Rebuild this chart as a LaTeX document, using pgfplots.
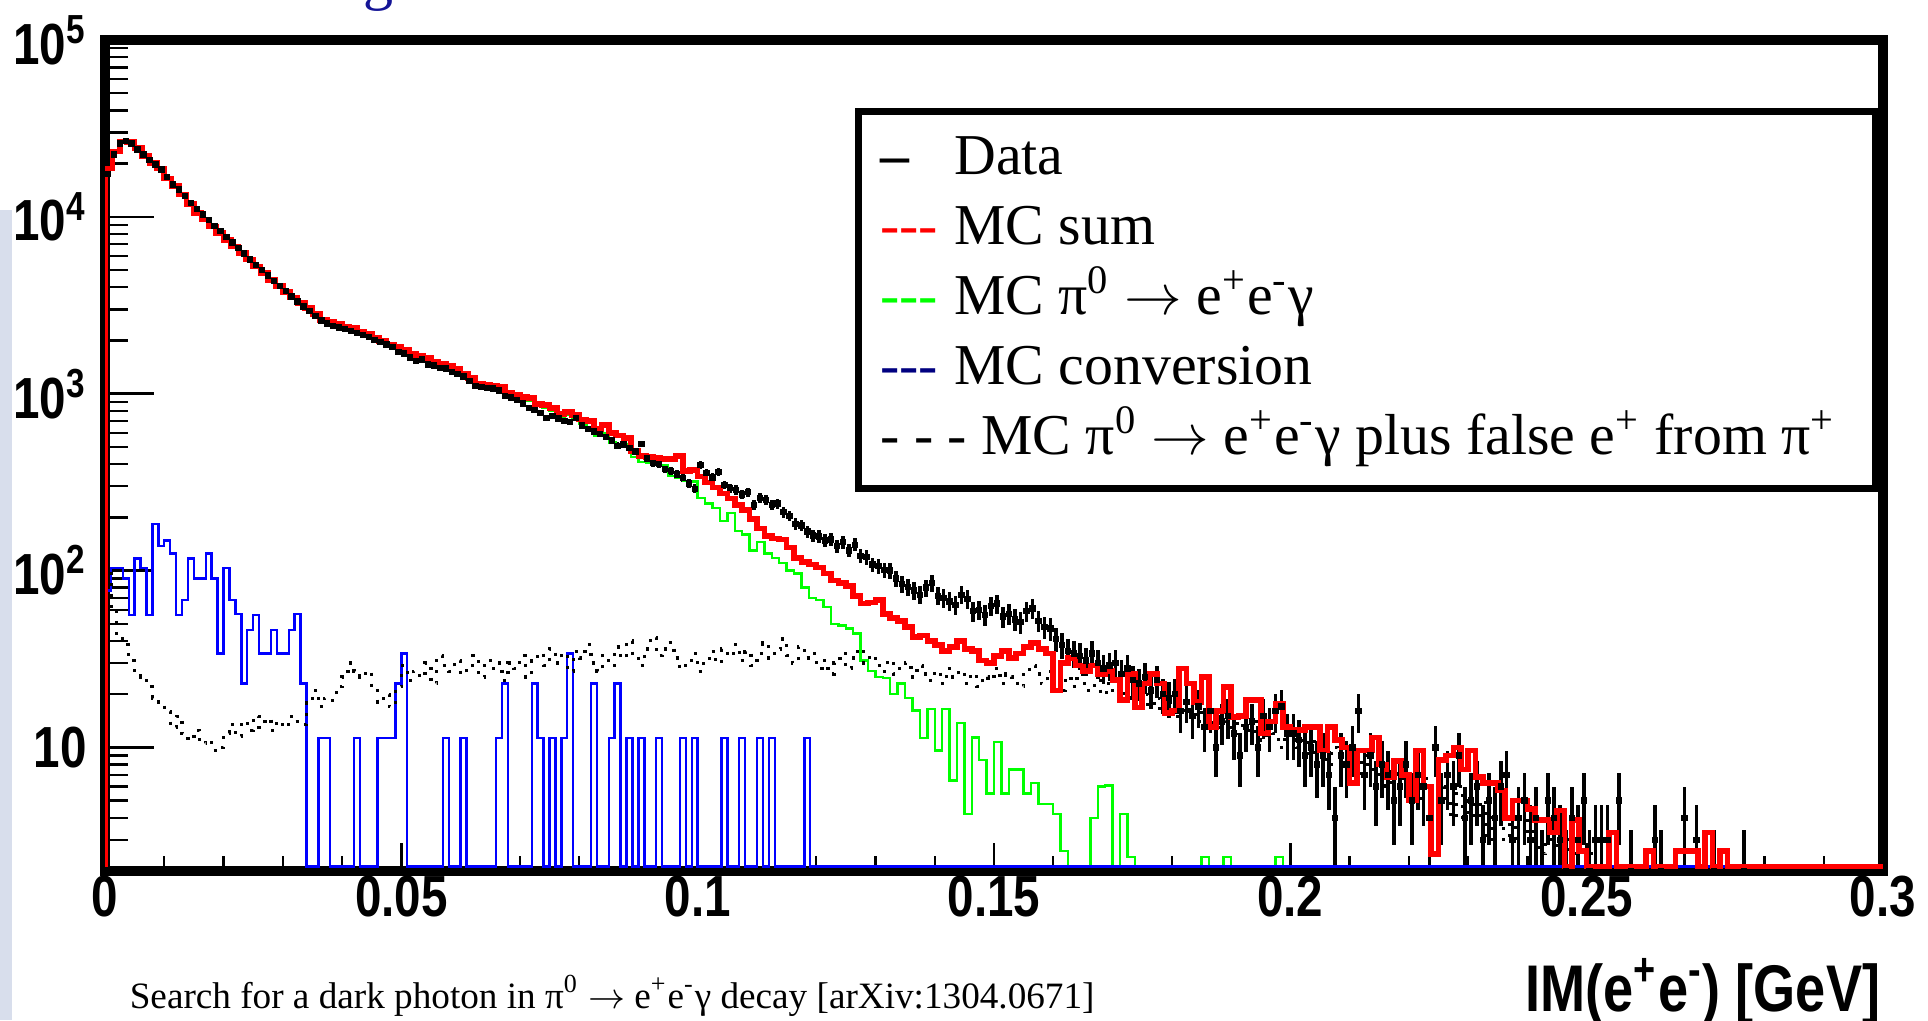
\documentclass[border=0pt]{standalone}
\usepackage{fontspec}
\setmainfont{Liberation Serif}
\newfontfamily\rootsans[FakeStretch=0.82]{Liberation Sans}
\usepackage{pgfplots}
\pgfplotsset{compat=1.18}
\definecolor{rootred}{RGB}{255,0,0}
\definecolor{rootgreen}{RGB}{0,255,0}
\definecolor{rootblue}{RGB}{0,0,255}
\definecolor{navyleg}{RGB}{0,0,128}
\definecolor{stripcol}{RGB}{216,222,236}
\definecolor{titleblue}{RGB}{20,20,150}
\newcommand{\arr}{\ensuremath{\rightarrow}}
\begin{document}
\begin{tikzpicture}
\useasboundingbox (0pt,0pt) rectangle (482pt,255pt);
\fill[stripcol] (0pt,0pt) rectangle (3pt,202.5pt);
\node[anchor=base, inner sep=0pt, text=titleblue, font=\fontsize{15}{15}\selectfont] at (94.5pt,255.3pt) {g};
\begin{axis}[
  at={(26.25pt,37.25pt)}, anchor=south west,
  scale only axis, width=444.5pt, height=207.75pt,
  xmin=0, xmax=0.3, ymode=log, ymin=2, ymax=1e5,
  axis line style={line width=2.5pt, line cap=rect},
  tick align=inside, tick pos=left,
  xtick={0,0.05,0.1,0.15,0.2,0.25,0.3},
  xticklabels={0,0.05,0.1,0.15,0.2,0.25,0.3},
  minor x tick num=4,
  ytick={10,100,1000,10000,100000},
  yticklabels={10,10\textsuperscript{2},10\textsuperscript{3},10\textsuperscript{4},10\textsuperscript{5}},
  minor ytick={3,4,5,6,7,8,9,20,30,40,50,60,70,80,90,200,300,400,500,600,700,800,900,2000,3000,4000,5000,6000,7000,8000,9000,20000,30000,40000,50000,60000,70000,80000,90000},
  tick style={black, line width=0.6pt},
  xtick style={/pgfplots/major tick length=7pt,/pgfplots/minor tick length=3.8pt},
  ytick style={/pgfplots/major tick length=12.25pt,/pgfplots/minor tick length=5.75pt},
  ticklabel style={font=\rootsans\bfseries\fontsize{14.5}{16}\selectfont},
  xticklabel style={yshift=2.4pt},
  yticklabel style={xshift=-1pt},
  xlabel={IM(e\textsuperscript{+}e\textsuperscript{-}) [GeV]},
  xlabel style={at={(rel axis cs:1,0)}, anchor=base east, inner sep=0pt, yshift=-35pt, xshift=-0.5pt, font=\rootsans\bfseries\fontsize{16.5}{18}\selectfont},
  legend style={at={(rel axis cs:0.422,0.918)}, anchor=north west, draw=black, line width=1.75pt, fill=white,
    inner xsep=5.4pt, inner ysep=3.3pt, row sep=0pt, column sep=0pt,
    font=\fontsize{14.45}{17}\selectfont,
    nodes={inner sep=0pt, text height=12.5pt, text depth=5pt}},
  legend cell align=left,
]
% Data
\addplot[forget plot, only marks, mark=square*, mark size=0.6pt, black,
  error bars/.cd, y dir=both, y explicit, error mark=none, error bar style={line width=0.9pt, black}]
  table[x=x, y=y, y error=e, row sep=\\] {x y e\\
0.0005 17500 132\\ 0.0015 22500 150\\ 0.0025 26000 161\\ 0.0035 26800 164\\ 0.0045 26000 161\\ 0.0055 24000 155\\ 0.0065 22500 150\\ 0.0075 21000 145\\ 0.0085 19800 141\\ 0.0095 18500 136\\
0.0105 16800 130\\ 0.0115 15200 123\\ 0.0125 14300 120\\ 0.0135 13100 114\\ 0.0145 12000 110\\ 0.0155 11100 105\\ 0.0165 10300 101\\ 0.0175 9600 98\\ 0.0185 8900 94\\ 0.0195 8300 91\\
0.0205 7700 88\\ 0.0215 7150 85\\ 0.0225 6650 82\\ 0.0235 6200 79\\ 0.0245 5750 76\\ 0.0255 5350 73\\ 0.0265 5000 71\\ 0.0275 4650 68\\ 0.0285 4350 66\\ 0.0295 4050 64\\
0.0305 3800 62\\ 0.0315 3550 60\\ 0.0325 3330 58\\ 0.0335 3120 56\\ 0.0345 2930 54\\ 0.0355 2760 53\\ 0.0365 2600 51\\ 0.0375 2490 50\\ 0.0385 2420 49\\ 0.0395 2370 49\\
0.0405 2330 48\\ 0.0415 2270 48\\ 0.0425 2210 47\\ 0.0435 2150 46\\ 0.0445 2090 46\\ 0.0455 2020 45\\ 0.0465 1960 44\\ 0.0475 1900 44\\ 0.0485 1840 43\\ 0.0495 1720 41\\
0.0505 1690 41\\ 0.0515 1600 40\\ 0.0525 1530 39\\ 0.0535 1560 39\\ 0.0545 1460 38\\ 0.0555 1440 38\\ 0.0565 1400 37\\ 0.0575 1390 37\\ 0.0585 1330 36\\ 0.0595 1290 36\\
0.0605 1250 35\\ 0.0615 1180 34\\ 0.0625 1107 33\\ 0.0635 1090 33\\ 0.0645 1080 33\\ 0.0655 1070 33\\ 0.0665 1040 32\\ 0.0675 971 31\\ 0.0685 950 31\\ 0.0695 920 30\\
0.0705 880 30\\ 0.0715 831 29\\ 0.0725 810 28\\ 0.0735 780 28\\ 0.0745 730 27\\ 0.0755 750 27\\ 0.0765 725 27\\ 0.0775 700 26\\ 0.0785 690 26\\ 0.0795 730 27\\
0.0805 660 26\\ 0.0815 632 25\\ 0.0825 610 25\\ 0.0835 593 24\\ 0.0845 570 24\\ 0.0855 545 23\\ 0.0865 507 23\\ 0.0875 515 23\\ 0.0885 495 22\\ 0.0895 470 22\\
0.0905 520 23\\ 0.0915 430 21\\ 0.0925 406 20\\ 0.0935 400 20\\ 0.0945 376 19\\ 0.0955 365 19\\ 0.0965 350 19\\ 0.0975 334 18\\ 0.0985 310 18\\ 0.0995 290 17\\
0.1005 394 19.8\\ 0.1015 356 18.9\\ 0.1025 336 18.3\\ 0.1035 361 19\\ 0.1045 305 17.5\\ 0.1055 293 17.1\\ 0.1065 286 16.9\\ 0.1075 269 16.4\\ 0.1085 278 16.7\\ 0.1095 234 15.3\\
0.1105 258 16.1\\ 0.1115 251 15.8\\ 0.1125 234 15.3\\ 0.1135 239 15.5\\ 0.1145 214 14.6\\ 0.1155 204 14.3\\ 0.1165 184 13.6\\ 0.1175 180 13.4\\ 0.1185 166 12.9\\ 0.1195 158 12.6\\
0.1205 156 12.5\\ 0.1215 148 12.2\\ 0.1225 150 12.2\\ 0.1235 138 11.7\\ 0.1245 145 12\\ 0.1255 130 11.4\\ 0.1265 140 11.8\\ 0.1275 121 11\\ 0.1285 119 10.9\\ 0.1295 108 10.4\\
0.1305 106 10.3\\ 0.1315 101 10\\ 0.1325 100 10\\ 0.1335 90 9.5\\ 0.1345 84 9.2\\ 0.1355 81 9\\ 0.1365 77 8.8\\ 0.1375 73 8.5\\ 0.1385 80 8.9\\ 0.1395 85 9.2\\
0.1405 72 8.5\\ 0.1415 70 8.4\\ 0.1425 67 8.2\\ 0.1435 64 8\\ 0.1445 73 8.5\\ 0.1455 69 8.3\\ 0.1465 59 7.7\\ 0.1475 60 7.7\\ 0.1485 56 7.5\\ 0.1495 63 7.9\\
0.1505 65 8.1\\ 0.1515 55 7.4\\ 0.1525 57 7.5\\ 0.1535 53 7.3\\ 0.1545 51 7.1\\ 0.1555 59 7.7\\ 0.1565 61 7.8\\ 0.1575 52 7.2\\ 0.1585 48 6.9\\ 0.1595 47 6.9\\
0.1605 41 6.4\\ 0.1615 38 6.2\\ 0.1625 35 5.9\\ 0.1635 34 5.8\\ 0.1645 33 5.7\\ 0.1655 31 5.6\\ 0.1665 34 5.8\\ 0.1675 30 5.5\\ 0.1685 28 5.3\\ 0.1695 29 5.4\\
0.1705 30 5.5\\ 0.1715 26 5.1\\ 0.1725 28 5.3\\ 0.1735 24 4.9\\ 0.1745 23 4.8\\ 0.1755 25 5\\ 0.1765 21 4.6\\ 0.1775 24 4.9\\ 0.1785 20 4.5\\ 0.1795 19 4.4\\
0.1805 20 4.5\\ 0.1815 16 4\\ 0.1825 18 4.2\\ 0.1835 15 3.9\\ 0.1845 17 4.1\\ 0.1855 13 3.6\\ 0.1865 16 4\\ 0.1875 10 3.2\\ 0.1885 14 3.7\\ 0.1895 15 3.9\\
0.1905 12 3.5\\ 0.1915 9 3\\ 0.1925 13 3.6\\ 0.1935 14 3.7\\ 0.1945 10 3.2\\ 0.1955 15 3.9\\ 0.1965 13 3.6\\ 0.1975 16 4\\ 0.1985 17 4.1\\ 0.1995 12 3.5\\
0.2005 12 3.5\\ 0.2015 11 3.3\\ 0.2025 9 3\\ 0.2035 10 3.2\\ 0.2045 8 2.8\\ 0.2055 9 3\\ 0.2065 7 2.6\\ 0.2075 4 2\\ 0.2085 9 3\\ 0.2095 8 2.8\\
0.2105 10 3.2\\ 0.2115 16 4\\ 0.2125 7 2.6\\ 0.2135 9 3\\ 0.2145 6 2.4\\ 0.2155 8 2.8\\ 0.2165 7 2.6\\ 0.2175 5 2.2\\ 0.2185 6 2.4\\ 0.2195 8 2.8\\
0.2205 5 2.2\\ 0.2215 7 2.6\\ 0.2225 6 2.4\\ 0.2235 4 2\\ 0.2245 10 3.2\\ 0.2255 5 2.2\\ 0.2265 7 2.6\\ 0.2275 6 2.4\\ 0.2285 9 3\\ 0.2295 4 2\\
0.2305 5 2.2\\ 0.2315 6 2.4\\ 0.2325 3 1.7\\ 0.2335 5 2.2\\ 0.2345 4 2\\ 0.2355 6 2.4\\ 0.2365 7 2.6\\ 0.2375 3 1.7\\ 0.2385 4 2\\ 0.2395 5 2.2\\
0.2405 3 1.7\\ 0.2415 4 2\\ 0.2425 2 1.4\\ 0.2435 5 2.2\\ 0.2445 4 2\\ 0.2455 3 1.7\\ 0.2465 2 1.4\\ 0.2475 4 2\\ 0.2485 3 1.7\\ 0.2495 5 2.2\\
0.2505 2 1.4\\ 0.2515 3 1.7\\ 0.2525 3 1.7\\ 0.2535 3 1.7\\ 0.2555 5 2.2\\ 0.2575 2 1.4\\ 0.2615 3 1.7\\ 0.2625 2 1.4\\ 0.2665 4 2\\ 0.2685 3 1.7\\
0.2715 2 1.4\\ 0.2765 2 1.4\\
};
% MC pi0 -> e+e-gamma (green)
\addplot[forget plot, const plot mark left, rootgreen, line width=0.6pt, mark=none]
  table[row sep=\\] {x y\\
0 2.12\\ 0 18400\\ 0.00125 22900\\ 0.0025 26200\\ 0.00375 26000\\ 0.005 24000\\ 0.00625 21600\\ 0.0075 19800\\ 0.00875 18400\\ 0.01 16200\\ 0.01125 14600\\ 0.0125 13100\\ 0.01375 11560\\ 0.015 10290\\ 0.01625 9470\\ 0.0175 8620\\ 0.01875 7940\\
0.02 7250\\ 0.02125 6660\\ 0.0225 6120\\ 0.02375 5630\\ 0.025 5140\\ 0.02625 4700\\ 0.0275 4310\\ 0.02875 3970\\ 0.03 3670\\ 0.03125 3430\\ 0.0325 3180\\ 0.03375 2990\\ 0.035 2760\\ 0.03625 2570\\ 0.0375 2490\\ 0.03875 2420\\
0.04 2350\\ 0.04125 2300\\ 0.0425 2180\\ 0.04375 2120\\ 0.045 2040\\ 0.04625 1950\\ 0.0475 1860\\ 0.04875 1790\\ 0.05 1720\\ 0.05125 1640\\ 0.0525 1600\\ 0.05375 1555\\ 0.055 1490\\ 0.05625 1440\\ 0.0575 1400\\ 0.05875 1350\\
0.06 1270\\ 0.06125 1200\\ 0.0625 1110\\ 0.06375 1090\\ 0.065 1080\\ 0.06625 1060\\ 0.0675 985\\ 0.06875 960\\ 0.07 935\\ 0.07125 915\\ 0.0725 850\\ 0.07375 830\\ 0.075 800\\ 0.07625 745\\ 0.0775 760\\ 0.07875 730\\
0.08 680\\ 0.08125 650\\ 0.0825 580\\ 0.08375 600\\ 0.085 530\\ 0.08625 520\\ 0.0875 515\\ 0.08875 437\\ 0.09 410\\ 0.09125 406\\ 0.0925 400\\ 0.09375 395\\ 0.095 343\\ 0.09625 335\\ 0.0975 321\\ 0.09875 318\\
0.1 257\\ 0.10125 240\\ 0.1025 226\\ 0.10375 191\\ 0.105 211\\ 0.10625 168\\ 0.1075 160\\ 0.10875 130\\ 0.11 145\\ 0.11125 125\\ 0.1125 118\\ 0.11375 110\\ 0.115 100\\ 0.11625 96\\ 0.1175 80\\ 0.11875 70\\
0.12 68\\ 0.12125 62\\ 0.1225 50\\ 0.12375 49\\ 0.125 47\\ 0.12625 44\\ 0.1275 31\\ 0.12875 27\\ 0.13 25\\ 0.13125 24.6\\ 0.1325 20\\ 0.13375 23\\ 0.135 19\\ 0.13625 16.2\\ 0.1375 11.3\\ 0.13875 16.5\\
0.14 9.6\\ 0.14125 16.5\\ 0.1425 6.5\\ 0.14375 13.7\\ 0.145 4.2\\ 0.14625 11.4\\ 0.1475 8.5\\ 0.14875 5.5\\ 0.15 10.7\\ 0.15125 5.5\\ 0.1525 7.5\\ 0.15375 7.5\\ 0.155 5.5\\ 0.15625 6.3\\ 0.1575 4.8\\ 0.15875 4.8\\
0.16 4.2\\ 0.16125 2.6\\ 0.1625 2.12\\ 0.16625 4\\ 0.1675 6\\ 0.16875 6.1\\ 0.17 2.12\\ 0.17125 4.2\\ 0.1725 2.4\\ 0.17375 2.12\\ 0.185 2.4\\ 0.18625 2.12\\ 0.18875 2.4\\ 0.19 2.12\\ 0.1975 2.4\\ 0.19875 2.12\\ 0.2 2.12\\
};
% MC conversion (blue)
\addplot[forget plot, const plot mark left, rootblue, line width=0.6pt, mark=none]
  table[row sep=\\] {x y\\
0 2.12\\ 0 77\\ 0.001 103\\ 0.003 90\\ 0.004 56\\ 0.005 117\\ 0.006 103\\ 0.007 56\\ 0.008 184\\ 0.009 138\\ 0.01 148\\ 0.011 125\\ 0.012 56\\ 0.013 68\\ 0.014 117\\ 0.015 90\\ 0.017 125\\ 0.018 90\\ 0.019 34\\
0.02 103\\ 0.021 68\\ 0.022 57\\ 0.023 23\\ 0.024 46\\ 0.025 56\\ 0.026 34\\ 0.028 46\\ 0.029 34\\ 0.031 46\\ 0.032 57\\ 0.033 23\\ 0.034 2.12\\ 0.036 11.3\\ 0.038 2.12\\ 0.042 11.3\\ 0.043 2.12\\ 0.046 11.3\\ 0.049 23\\
0.05 34\\ 0.051 2.12\\ 0.057 11.3\\ 0.058 2.12\\ 0.06 11.3\\ 0.061 2.12\\ 0.066 11.3\\ 0.067 23\\ 0.068 2.12\\ 0.072 23\\ 0.073 11.3\\ 0.074 2.12\\ 0.075 11.3\\ 0.076 2.12\\ 0.077 11.3\\ 0.078 34\\ 0.079 2.12\\
0.082 23\\ 0.083 2.12\\ 0.085 11.3\\ 0.086 23\\ 0.087 2.12\\ 0.088 11.3\\ 0.089 2.12\\ 0.09 11.3\\ 0.091 2.12\\ 0.093 11.3\\ 0.094 2.12\\ 0.097 11.3\\ 0.098 2.12\\ 0.099 11.3\\ 0.1 2.12\\
0.104 11.3\\ 0.105 2.12\\ 0.107 11.3\\ 0.108 2.12\\ 0.11 11.3\\ 0.111 2.12\\ 0.112 11.3\\ 0.113 2.12\\ 0.118 11.3\\ 0.119 2.12\\ 0.3 2.12\\
};
% MC pi0 -> e+e-gamma plus false e+ (dotted)
\addplot[forget plot, const plot mark left, black, line width=0.8pt, dash pattern=on 0.75pt off 2pt, mark=none]
  table[row sep=\\] {x y\\
0 105\\ 0.001 60\\ 0.002 43\\ 0.003 38\\ 0.004 31\\ 0.005 26\\ 0.006 25\\ 0.007 22\\ 0.008 19\\ 0.009 18\\ 0.01 16\\ 0.011 13\\ 0.012 15\\ 0.013 12\\ 0.014 11\\ 0.015 12.5\\ 0.016 10.5\\ 0.017 11\\ 0.018 9.6\\ 0.019 10\\
0.02 12\\ 0.021 13.5\\ 0.022 11.5\\ 0.023 14\\ 0.024 12.5\\ 0.025 15\\ 0.026 13\\ 0.027 14.5\\ 0.028 12.5\\ 0.029 14\\ 0.03 13\\ 0.031 15\\ 0.032 14\\ 0.033 13.5\\ 0.034 18\\ 0.035 21\\ 0.036 17\\ 0.037 19\\ 0.038 18.5\\ 0.039 22\\
0.04 25\\ 0.041 30\\ 0.042 27\\ 0.043 25\\ 0.044 27\\ 0.045 21\\ 0.046 18\\ 0.047 20\\ 0.048 17\\ 0.049 22\\ 0.05 29\\ 0.051 24\\ 0.052 27\\ 0.053 25\\ 0.054 30\\ 0.055 23\\ 0.056 33\\ 0.057 29\\ 0.058 27\\ 0.059 31\\
0.06 26\\ 0.061 28\\ 0.062 33\\ 0.063 25\\ 0.064 31\\ 0.065 28\\ 0.066 30\\ 0.067 24\\ 0.068 30\\ 0.069 28\\ 0.07 33\\ 0.071 25\\ 0.072 31\\ 0.073 34\\ 0.074 29\\ 0.075 36\\ 0.076 30\\ 0.077 34\\ 0.078 27\\ 0.079 35\\
0.08 32\\ 0.081 38\\ 0.082 30\\ 0.083 27\\ 0.084 33\\ 0.085 29\\ 0.086 37\\ 0.087 32\\ 0.088 40\\ 0.089 34\\ 0.09 29\\ 0.091 36\\ 0.092 42\\ 0.093 33\\ 0.094 36\\ 0.095 39\\ 0.096 32\\ 0.097 28\\ 0.098 30\\ 0.099 34\\
0.1 27\\ 0.101 31\\ 0.102 35\\ 0.103 30\\ 0.104 36\\ 0.105 33\\ 0.106 38\\ 0.107 31\\ 0.108 35\\ 0.109 29\\ 0.11 34\\ 0.111 39\\ 0.112 32\\ 0.113 36\\ 0.114 41\\ 0.115 33\\ 0.116 30\\ 0.117 37\\ 0.118 32\\ 0.119 34\\
0.12 28\\ 0.121 31\\ 0.122 26\\ 0.123 30\\ 0.124 34\\ 0.125 28\\ 0.126 32\\ 0.127 36\\ 0.128 30\\ 0.129 33\\ 0.13 29\\ 0.131 27\\ 0.132 31\\ 0.133 26\\ 0.134 28\\ 0.135 30\\ 0.136 25\\ 0.137 29\\ 0.138 26\\ 0.139 24\\
0.14 27\\ 0.141 23\\ 0.142 28\\ 0.143 25\\ 0.144 27\\ 0.145 23\\ 0.146 26\\ 0.147 22\\ 0.148 25\\ 0.149 24\\ 0.15 28\\ 0.151 23\\ 0.152 26\\ 0.153 25\\ 0.154 22\\ 0.155 27\\ 0.156 29\\ 0.157 26\\ 0.158 23\\ 0.159 27\\
0.16 24\\ 0.161 21\\ 0.162 25\\ 0.163 22\\ 0.164 26\\ 0.165 23\\ 0.166 21\\ 0.167 24\\ 0.168 20\\ 0.169 23\\ 0.17 21\\ 0.171 22\\ 0.172 19\\ 0.173 21\\ 0.174 18\\ 0.175 20\\ 0.176 17\\ 0.177 19\\ 0.178 16\\ 0.179 18\\
0.18 17\\ 0.181 15\\ 0.182 18\\ 0.183 16\\ 0.184 14\\ 0.185 17\\ 0.186 15\\ 0.187 13\\ 0.188 16\\ 0.189 14\\ 0.19 12\\ 0.191 15\\ 0.192 13\\ 0.193 12\\ 0.194 14\\ 0.195 11\\ 0.196 13\\ 0.197 12\\ 0.198 10\\ 0.199 12\\
0.2 11\\ 0.201 10\\ 0.202 12\\ 0.203 9\\ 0.204 11\\ 0.205 10\\ 0.206 8\\ 0.207 10\\ 0.208 9\\ 0.209 8\\ 0.21 10\\ 0.211 7\\ 0.212 9\\ 0.213 8\\ 0.214 7\\ 0.215 9\\ 0.216 6\\ 0.217 8\\ 0.218 7\\ 0.219 6\\
0.22 7\\ 0.221 5\\ 0.222 7\\ 0.223 6\\ 0.224 5\\ 0.225 6\\ 0.226 5\\ 0.227 4\\ 0.228 6\\ 0.229 4\\ 0.23 5\\ 0.231 4\\ 0.232 5\\ 0.233 3\\ 0.234 4\\ 0.235 4\\ 0.236 3\\ 0.237 4\\ 0.238 3\\ 0.239 3\\
0.24 4\\ 0.241 3\\ 0.242 2.5\\ 0.243 3\\ 0.244 3\\ 0.245 2.5\\ 0.246 3\\ 0.247 2.5\\ 0.248 2.5\\ 0.249 3\\ 0.25 2.5\\ 0.251 2.5\\
};
% MC sum (red)
\addplot[forget plot, const plot mark left, rootred, line width=1.4pt, mark=none]
  table[row sep=\\] {x y\\
0 2.12\\ 0 18800\\ 0.00125 23400\\ 0.0025 26700\\ 0.00375 26500\\ 0.005 24500\\ 0.00625 22000\\ 0.0075 20200\\ 0.00875 18800\\ 0.01 16500\\ 0.01125 14900\\ 0.0125 13400\\ 0.01375 11800\\ 0.015 10500\\ 0.01625 9660\\ 0.0175 8800\\ 0.01875 8100\\
0.02 7400\\ 0.02125 6800\\ 0.0225 6250\\ 0.02375 5750\\ 0.025 5250\\ 0.02625 4800\\ 0.0275 4400\\ 0.02875 4050\\ 0.03 3750\\ 0.03125 3500\\ 0.0325 3250\\ 0.03375 3050\\ 0.035 2820\\ 0.03625 2620\\ 0.0375 2540\\ 0.03875 2470\\
0.04 2400\\ 0.04125 2350\\ 0.0425 2230\\ 0.04375 2170\\ 0.045 2080\\ 0.04625 1990\\ 0.0475 1900\\ 0.04875 1830\\ 0.05 1760\\ 0.05125 1675\\ 0.0525 1640\\ 0.05375 1590\\ 0.055 1520\\ 0.05625 1470\\ 0.0575 1430\\ 0.05875 1380\\
0.06 1300\\ 0.06125 1228\\ 0.0625 1135\\ 0.06375 1120\\ 0.065 1110\\ 0.06625 1090\\ 0.0675 1010\\ 0.06875 990\\ 0.07 960\\ 0.07125 946\\ 0.0725 875\\ 0.07375 860\\ 0.075 830\\ 0.07625 769\\ 0.0775 790\\ 0.07875 760\\
0.08 715\\ 0.08125 702\\ 0.0825 632\\ 0.08375 665\\ 0.085 600\\ 0.08625 580\\ 0.0875 562\\ 0.08875 475\\ 0.09 445\\ 0.09125 440\\ 0.0925 432\\ 0.09375 428\\ 0.095 428\\ 0.09625 445\\ 0.0975 366\\ 0.09875 370\\
0.1 340\\ 0.10125 315\\ 0.1025 295\\ 0.10375 272\\ 0.105 255\\ 0.10625 235\\ 0.1075 220\\ 0.10875 195\\ 0.11 173\\ 0.11125 157\\ 0.1125 152\\ 0.11375 150\\ 0.115 135\\ 0.11625 118\\ 0.1175 112\\ 0.11875 108\\
0.12 104\\ 0.12125 96\\ 0.1225 88\\ 0.12375 85\\ 0.125 82\\ 0.12625 72\\ 0.1275 65\\ 0.12875 66\\ 0.13 68\\ 0.13125 57\\ 0.1325 54\\ 0.13375 52\\ 0.135 48\\ 0.13625 42\\ 0.1375 43\\ 0.13875 40\\
0.14 38\\ 0.14125 35\\ 0.1425 37\\ 0.14375 40\\ 0.145 36\\ 0.14625 35\\ 0.1475 31\\ 0.14875 30\\ 0.15 33\\ 0.15125 35\\ 0.1525 32\\ 0.15375 34\\ 0.155 37\\ 0.15625 39\\ 0.1575 36\\ 0.15875 34\\
0.16 21\\ 0.16125 30\\ 0.1625 32\\ 0.16375 29\\ 0.165 27\\ 0.16625 29\\ 0.1675 26\\ 0.16875 27\\ 0.17 24\\ 0.17125 18.5\\ 0.1725 26\\ 0.17375 16.8\\ 0.175 23\\ 0.17625 26\\ 0.1775 23\\ 0.17875 15.6\\
0.18 16.2\\ 0.18125 28\\ 0.1825 23\\ 0.18375 18\\ 0.185 25\\ 0.18625 13\\ 0.1875 16\\ 0.18875 22\\ 0.19 14.8\\ 0.19125 15\\ 0.1925 18.5\\ 0.19375 18.5\\ 0.195 12\\ 0.19625 14\\ 0.1975 17.7\\ 0.19875 13\\
0.2 12.5\\ 0.20125 12.5\\ 0.2025 13\\ 0.20375 13\\ 0.205 9.6\\ 0.20625 13\\ 0.2075 11\\ 0.20875 10\\ 0.21 6.3\\ 0.21125 9.6\\ 0.2125 9.6\\ 0.21375 11.4\\ 0.215 8\\ 0.21625 6.8\\ 0.2175 8.4\\ 0.21875 7\\
0.22 5\\ 0.22125 9.6\\ 0.2225 6\\ 0.22375 2.5\\ 0.225 8.5\\ 0.22625 9\\ 0.2275 10\\ 0.22875 7.5\\ 0.23 9.6\\ 0.23125 6.8\\ 0.2325 6.3\\ 0.23375 6.3\\ 0.235 5.7\\ 0.23625 4\\ 0.2375 5\\ 0.23875 5\\
0.24 4.5\\ 0.24125 3.9\\ 0.2425 3.9\\ 0.24375 3.3\\ 0.245 4.4\\ 0.24625 2.12\\ 0.2475 3.9\\ 0.24875 2.6\\ 0.25 2.12\\ 0.25375 3.3\\ 0.255 2.12\\ 0.26 2.6\\ 0.26125 2.12\\ 0.265 2.6\\ 0.26875 2.12\\
0.27 3.3\\ 0.27125 2.12\\ 0.2725 2.6\\ 0.27375 2.12\\ 0.3 2.12\\
};
\addlegendimage{empty legend}
\addlegendentry{\makebox[18.5pt][l]{\textbf{\textendash}}Data}
\addlegendimage{empty legend}
\addlegendentry{\makebox[18.5pt][l]{\textcolor{rootred}{-{}-{}-}}MC sum}
\addlegendimage{empty legend}
\addlegendentry{\makebox[18.5pt][l]{\textcolor{rootgreen}{-{}-{}-}}MC π\textsuperscript{0} \arr{} e\textsuperscript{+}e\textsuperscript{-}γ}
\addlegendimage{empty legend}
\addlegendentry{\makebox[18.5pt][l]{\textcolor{navyleg}{-{}-{}-}}MC conversion}
\addlegendimage{empty legend}
\addlegendentry{- - - MC π\textsuperscript{0} \arr{} e\textsuperscript{+}e\textsuperscript{-}γ plus false e\textsuperscript{+} from π\textsuperscript{+}\kern4.7pt\null}
\end{axis}
\node[anchor=base west, inner sep=0pt, font=\fontsize{9.3}{11}\selectfont] at (32.25pt,3pt) {Search for a dark photon in π\textsuperscript{0} \arr{} e\textsuperscript{+}e\textsuperscript{-}γ decay [arXiv:1304.0671]};
\end{tikzpicture}
\end{document}
